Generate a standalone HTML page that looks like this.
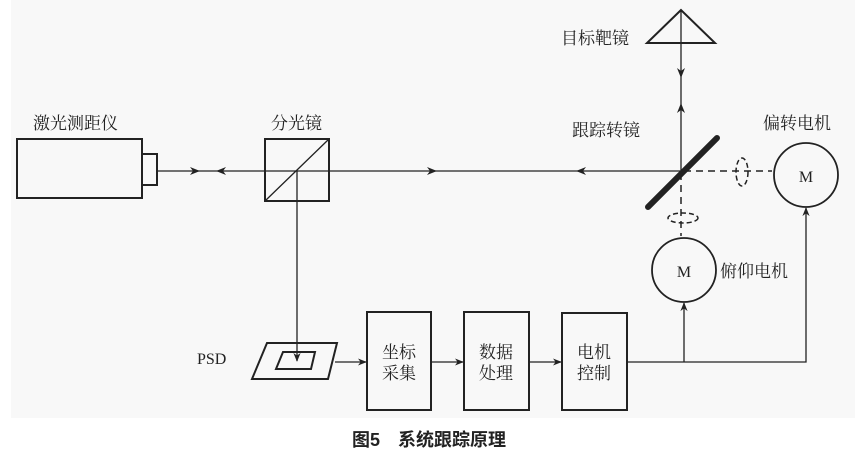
<!DOCTYPE html>
<html><head><meta charset="utf-8"><style>
html,body{margin:0;padding:0;background:#fff;}
svg{display:block;}
text{font-family:"Liberation Serif","Noto Serif CJK SC","Noto Sans CJK SC",serif;fill:#222;}
</style></head><body>
<svg width="859" height="456" viewBox="0 0 859 456" xmlns="http://www.w3.org/2000/svg">
<defs>
<marker id="a" viewBox="0 0 10 10" refX="9" refY="5" markerWidth="9" markerHeight="9" orient="auto-start-reverse" markerUnits="userSpaceOnUse"><path d="M0,1 L10,5 L0,9 L3,5 Z" fill="#222"/></marker>
</defs>
<rect x="11" y="0" width="844" height="418" fill="#f8f8f8"/>
<g stroke="#222" stroke-width="1.3" fill="none">
<rect x="17" y="139" width="125" height="59" stroke-width="2"/>
<rect x="142" y="154" width="15" height="31" stroke-width="2"/>
<line x1="157" y1="171" x2="681" y2="171"/>
<rect x="265" y="139" width="64" height="62" stroke-width="2"/>
<line x1="265" y1="201" x2="329" y2="139"/>
<line x1="297" y1="171" x2="297" y2="361" marker-end="url(#a)"/>
<line x1="681" y1="171" x2="681" y2="10"/>
<polygon points="681,10 647,43 715,43" stroke-width="2"/>
<line x1="648" y1="207" x2="717" y2="138" stroke-width="6" stroke-linecap="round"/>
<line x1="684" y1="171" x2="772" y2="171" stroke-dasharray="7,5" stroke-width="1.5"/>
<line x1="681" y1="173" x2="681" y2="236" stroke-dasharray="7,5" stroke-width="1.5"/>
<ellipse cx="742" cy="172" rx="6" ry="14" stroke-dasharray="5,3" stroke-width="1.5"/>
<ellipse cx="683" cy="218" rx="15" ry="5" stroke-dasharray="5,3" stroke-width="1.5"/>
<circle cx="806" cy="175" r="32" stroke-width="1.8"/>
<circle cx="684" cy="270" r="32" stroke-width="1.8"/>
<polygon points="252,379 267,343 337,343 328,379" stroke-width="2"/>
<polygon points="276,369 283,352 315,352 311,369" stroke-width="2"/>
<rect x="367" y="312" width="64" height="98" stroke-width="2"/>
<rect x="464" y="312" width="65" height="98" stroke-width="2"/>
<rect x="562" y="313" width="65" height="97" stroke-width="2"/>
<line x1="335" y1="362" x2="366" y2="362" marker-end="url(#a)"/>
<line x1="431" y1="362" x2="463" y2="362" marker-end="url(#a)"/>
<line x1="529" y1="362" x2="561" y2="362" marker-end="url(#a)"/>
<polyline points="627,362 806,362 806,208" marker-end="url(#a)"/>
<line x1="684" y1="362" x2="684" y2="303" marker-end="url(#a)"/>
</g>
<g fill="#222">
<path d="M190,167 L200,171 L190,175 L193,171Z"/>
<path d="M226,167 L216,171 L226,175 L223,171Z"/>
<path d="M427,167 L437,171 L427,175 L430,171Z"/>
<path d="M586,167 L576,171 L586,175 L583,171Z"/>
<path d="M677,68 L681,78 L685,68 L681,71Z"/>
<path d="M677,113 L681,103 L685,113 L681,110Z"/>
</g>
<g font-size="17">
<text x="33" y="129">激光测距仪</text>
<text x="271" y="129">分光镜</text>
<text x="561" y="44">目标靶镜</text>
<text x="572" y="136">跟踪转镜</text>
<text x="763" y="129">偏转电机</text>
<text x="720" y="277">俯仰电机</text>
<text x="197" y="364" font-size="16">PSD</text>
<text x="399" y="358" text-anchor="middle">坐标</text>
<text x="399" y="379" text-anchor="middle">采集</text>
<text x="496" y="358" text-anchor="middle">数据</text>
<text x="496" y="379" text-anchor="middle">处理</text>
<text x="594" y="358" text-anchor="middle">电机</text>
<text x="594" y="379" text-anchor="middle">控制</text>
<text x="806" y="182" text-anchor="middle" font-size="16">M</text>
<text x="684" y="277" text-anchor="middle" font-size="16">M</text>
</g>
<text x="429" y="446" text-anchor="middle" font-size="18" font-weight="bold" style='font-family:"Liberation Sans","Noto Sans CJK SC",sans-serif'>图5　系统跟踪原理</text>
</svg>
</body></html>
